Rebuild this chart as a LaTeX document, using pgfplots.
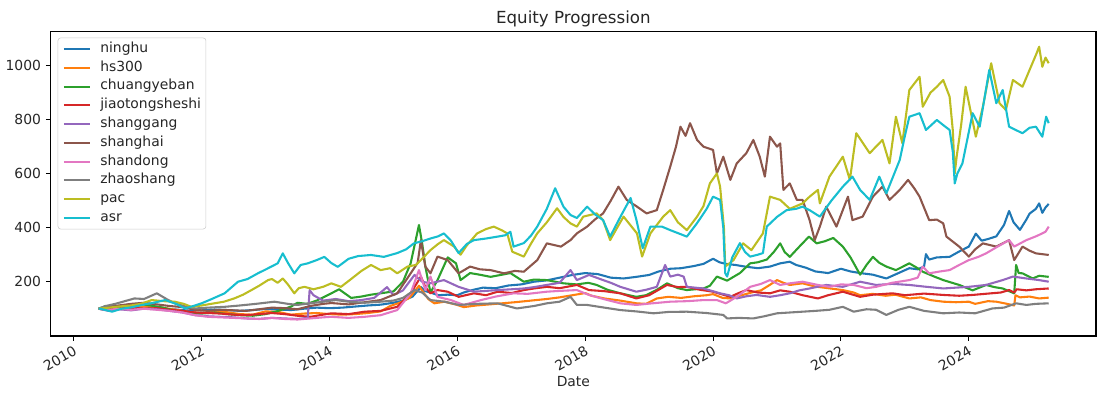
\documentclass[border=0pt]{standalone}
\usepackage{pgfplots}
\pgfplotsset{compat=1.18}
\usepackage{fontspec}
\setmainfont{DejaVu Sans}
\definecolor{tabblue}{HTML}{1F77B4}
\definecolor{taborange}{HTML}{FF7F0E}
\definecolor{tabgreen}{HTML}{2CA02C}
\definecolor{tabred}{HTML}{D62728}
\definecolor{tabpurple}{HTML}{9467BD}
\definecolor{tabbrown}{HTML}{8C564B}
\definecolor{tabpink}{HTML}{E377C2}
\definecolor{tabgray}{HTML}{7F7F7F}
\definecolor{tabolive}{HTML}{BCBD22}
\definecolor{tabcyan}{HTML}{17BECF}
\begin{document}
\begin{tikzpicture}
\begin{axis}[
  name=ax,
  width=752.6pt, height=219.1pt, scale only axis,
  xmin=2009.64, xmax=2025.99, ymin=-1, ymax=1126,
  xtick={2010,2012,2014,2016,2018,2020,2022,2024},
  xticklabels={2010,2012,2014,2016,2018,2020,2022,2024},
  ytick={200,400,600,800,1000},
  /pgf/number format/.cd, 1000 sep={}, assume math mode=true, /pgfplots/.cd,
  tick align=outside, major tick length=3.5pt,
  tick style={black, line width=0.8pt},
  axis line style={line width=0.8pt},
  xtick pos=bottom, ytick pos=left,
  ticklabel style={font=\fontsize{10}{12}\selectfont, text=black!85},
  xticklabel style={rotate=30, anchor=north east, inner sep=2pt},
  title={Equity Progression},
  title style={font=\fontsize{12}{14}\selectfont, text=black!85, yshift=-6.5pt},
  xlabel={Date},
  xlabel style={font=\fontsize{10}{12}\selectfont, text=black!85, yshift=3pt},
  every axis plot/.append style={line width=1.5pt, line join=round},
  legend cell align=left,
  legend image code/.code={\draw[#1, line width=1.5pt] (0pt,0pt) -- (19pt,0pt);},
  legend style={at={(0,1)}, anchor=north west, xshift=5pt, yshift=-4.3pt,
    draw=black!20, fill=white, rounded corners=2pt,
    font=\fontsize{10}{12}\selectfont, text=black!85,
    inner xsep=3.5pt, inner ysep=1.3pt, row sep=0pt, column sep=6.5pt,
    nodes={inner sep=0pt, text height=9.2pt, text depth=4.3pt}},
]
\addplot[tabblue] coordinates {(2010.39,100) (2010.5,96) (2010.65,100) (2010.8,104) (2011.0,101) (2011.2,104) (2011.4,100) (2011.6,97) (2011.8,93) (2012.0,94) (2012.2,97) (2012.4,95) (2012.6,92) (2012.8,95) (2013.0,99) (2013.2,97) (2013.4,95) (2013.6,100) (2013.8,104) (2014.0,102) (2014.2,104) (2014.4,108) (2014.6,112) (2014.8,115) (2015.0,122) (2015.15,130) (2015.3,145) (2015.43,180) (2015.5,165) (2015.58,160) (2015.7,150) (2015.85,152) (2016.0,150) (2016.1,160) (2016.25,170) (2016.4,178) (2016.6,176) (2016.8,186) (2017.0,190) (2017.2,200) (2017.4,205) (2017.6,215) (2017.8,225) (2018.0,232) (2018.2,228) (2018.4,215) (2018.6,212) (2018.8,218) (2019.0,225) (2019.15,238) (2019.33,248) (2019.5,250) (2019.7,258) (2019.85,266) (2020.0,285) (2020.1,272) (2020.2,266) (2020.35,262) (2020.5,256) (2020.7,250) (2020.89,256) (2021.05,268) (2021.2,274) (2021.3,262) (2021.45,252) (2021.6,238) (2021.8,232) (2022.0,248) (2022.15,238) (2022.3,232) (2022.5,226) (2022.71,212) (2022.9,232) (2023.07,250) (2023.2,246) (2023.3,256) (2023.33,302) (2023.38,282) (2023.5,290) (2023.7,292) (2023.85,312) (2024.0,330) (2024.11,378) (2024.2,352) (2024.3,358) (2024.43,368) (2024.55,410) (2024.63,462) (2024.7,420) (2024.8,392) (2024.9,430) (2024.95,452) (2025.05,470) (2025.1,490) (2025.15,455) (2025.2,475) (2025.25,488)};
\addlegendentry{ninghu}
\addplot[taborange] coordinates {(2010.39,100) (2010.55,94) (2010.7,104) (2010.85,112) (2011.0,106) (2011.2,108) (2011.4,103) (2011.6,96) (2011.8,88) (2012.0,84) (2012.2,90) (2012.4,87) (2012.6,80) (2012.8,78) (2013.0,90) (2013.2,88) (2013.4,78) (2013.6,82) (2013.8,84) (2014.0,80) (2014.2,78) (2014.4,80) (2014.6,84) (2014.8,90) (2014.95,110) (2015.1,122) (2015.25,140) (2015.4,185) (2015.47,160) (2015.55,135) (2015.64,120) (2015.8,126) (2016.0,114) (2016.1,106) (2016.3,112) (2016.5,116) (2016.7,120) (2016.9,124) (2017.15,130) (2017.4,136) (2017.6,142) (2017.8,150) (2018.0,158) (2018.1,148) (2018.3,138) (2018.55,130) (2018.8,120) (2018.95,118) (2019.12,138) (2019.3,144) (2019.5,140) (2019.7,146) (2019.9,150) (2020.0,154) (2020.15,140) (2020.27,138) (2020.45,150) (2020.6,160) (2020.75,168) (2020.9,190) (2021.0,206) (2021.1,196) (2021.2,188) (2021.4,194) (2021.6,182) (2021.8,176) (2022.03,169) (2022.2,160) (2022.3,150) (2022.5,155) (2022.7,148) (2022.85,152) (2023.07,138) (2023.25,142) (2023.4,132) (2023.6,126) (2023.8,124) (2024.0,126) (2024.1,118) (2024.3,128) (2024.43,126) (2024.6,118) (2024.71,112) (2024.73,150) (2024.8,142) (2024.95,145) (2025.1,138) (2025.25,141)};
\addlegendentry{hs300}
\addplot[tabgreen] coordinates {(2010.39,100) (2010.5,110) (2010.65,104) (2010.8,112) (2011.0,118) (2011.2,112) (2011.4,104) (2011.6,92) (2011.8,84) (2012.0,82) (2012.2,86) (2012.4,80) (2012.6,76) (2012.8,74) (2013.0,80) (2013.2,92) (2013.4,108) (2013.5,122) (2013.65,118) (2013.8,130) (2014.03,157) (2014.15,172) (2014.34,140) (2014.5,145) (2014.65,152) (2014.8,157) (2015.0,164) (2015.15,200) (2015.27,268) (2015.4,410) (2015.45,342) (2015.5,256) (2015.58,160) (2015.69,206) (2015.85,290) (2015.98,268) (2016.05,206) (2016.2,232) (2016.35,226) (2016.52,218) (2016.7,226) (2016.83,232) (2017.04,200) (2017.2,208) (2017.4,206) (2017.66,194) (2017.87,190) (2018.05,196) (2018.18,188) (2018.35,170) (2018.55,157) (2018.8,144) (2018.95,150) (2019.12,170) (2019.28,194) (2019.45,176) (2019.59,169) (2019.85,175) (2019.95,185) (2020.06,219) (2020.22,204) (2020.42,232) (2020.58,268) (2020.7,272) (2020.84,282) (2020.95,310) (2021.05,342) (2021.12,310) (2021.2,292) (2021.35,330) (2021.5,367) (2021.62,342) (2021.75,350) (2021.88,362) (2022.03,330) (2022.15,290) (2022.3,226) (2022.4,262) (2022.5,292) (2022.6,270) (2022.71,256) (2022.86,243) (2023.07,268) (2023.2,250) (2023.28,237) (2023.45,220) (2023.6,206) (2023.85,188) (2024.06,168) (2024.27,188) (2024.4,180) (2024.53,175) (2024.71,157) (2024.74,262) (2024.78,232) (2024.84,231) (2025.0,212) (2025.1,222) (2025.25,218)};
\addlegendentry{chuangyeban}
\addplot[tabred] coordinates {(2010.39,100) (2010.55,105) (2010.7,98) (2010.9,104) (2011.1,100) (2011.3,102) (2011.5,96) (2011.7,92) (2011.9,86) (2012.1,84) (2012.3,82) (2012.5,78) (2012.7,76) (2012.9,80) (2013.1,84) (2013.3,80) (2013.5,74) (2013.7,70) (2013.9,78) (2014.03,83) (2014.3,80) (2014.55,89) (2014.8,92) (2015.06,107) (2015.27,157) (2015.43,219) (2015.5,180) (2015.58,157) (2015.69,169) (2015.85,163) (2016.02,144) (2016.26,157) (2016.45,150) (2016.63,163) (2016.85,158) (2017.04,169) (2017.2,175) (2017.4,181) (2017.6,176) (2017.87,188) (2018.06,169) (2018.3,165) (2018.55,157) (2018.8,138) (2019.0,150) (2019.28,188) (2019.45,180) (2019.59,181) (2019.8,170) (2020.0,163) (2020.27,144) (2020.4,158) (2020.52,169) (2020.7,160) (2020.89,157) (2021.05,168) (2021.2,163) (2021.4,150) (2021.64,138) (2021.8,150) (2022.03,163) (2022.3,144) (2022.5,152) (2022.81,157) (2023.0,150) (2023.3,156) (2023.6,151) (2023.85,148) (2024.06,151) (2024.3,156) (2024.5,160) (2024.63,169) (2024.71,160) (2024.75,172) (2024.9,168) (2025.05,172) (2025.25,175)};
\addlegendentry{jiaotongsheshi}
\addplot[tabpurple] coordinates {(2010.39,100) (2010.55,92) (2010.7,98) (2010.9,94) (2011.1,100) (2011.3,98) (2011.5,92) (2011.7,86) (2011.9,76) (2012.1,72) (2012.3,70) (2012.5,68) (2012.7,64) (2012.9,62) (2013.1,66) (2013.3,64) (2013.5,62) (2013.66,66) (2013.69,169) (2013.75,150) (2013.9,130) (2014.1,136) (2014.3,128) (2014.5,132) (2014.7,140) (2014.9,180) (2015.0,150) (2015.15,168) (2015.33,225) (2015.45,200) (2015.58,194) (2015.79,206) (2016.02,181) (2016.26,163) (2016.45,166) (2016.63,169) (2016.85,172) (2017.04,175) (2017.2,180) (2017.4,188) (2017.6,196) (2017.77,243) (2017.87,206) (2018.06,225) (2018.28,206) (2018.4,196) (2018.55,181) (2018.8,163) (2018.95,170) (2019.12,181) (2019.25,262) (2019.33,219) (2019.45,226) (2019.54,219) (2019.59,181) (2019.85,175) (2020.11,157) (2020.25,150) (2020.37,138) (2020.52,146) (2020.68,151) (2020.89,144) (2021.05,150) (2021.2,157) (2021.35,168) (2021.51,175) (2021.77,188) (2022.03,181) (2022.3,200) (2022.55,188) (2022.8,192) (2023.07,188) (2023.3,182) (2023.6,175) (2023.8,178) (2024.0,181) (2024.27,188) (2024.53,206) (2024.69,219) (2024.9,212) (2025.1,206) (2025.25,200)};
\addlegendentry{shanggang}
\addplot[tabbrown] coordinates {(2010.39,100) (2010.55,108) (2010.7,112) (2010.9,118) (2011.1,122) (2011.3,116) (2011.5,110) (2011.7,106) (2011.9,96) (2012.1,92) (2012.3,96) (2012.5,94) (2012.7,92) (2012.9,98) (2013.1,104) (2013.3,102) (2013.5,98) (2013.7,110) (2013.9,118) (2014.03,121) (2014.3,116) (2014.55,124) (2014.8,132) (2015.06,157) (2015.27,231) (2015.38,270) (2015.43,354) (2015.5,256) (2015.58,231) (2015.69,293) (2015.85,280) (2016.02,231) (2016.2,256) (2016.35,246) (2016.52,243) (2016.73,231) (2016.9,240) (2017.04,237) (2017.25,280) (2017.4,342) (2017.62,330) (2017.77,354) (2017.87,379) (2018.03,404) (2018.15,430) (2018.28,453) (2018.4,500) (2018.52,552) (2018.65,503) (2018.81,478) (2018.96,453) (2019.12,465) (2019.22,540) (2019.33,626) (2019.42,700) (2019.49,774) (2019.57,740) (2019.64,787) (2019.75,725) (2019.85,700) (2020.0,688) (2020.06,601) (2020.16,663) (2020.27,577) (2020.37,638) (2020.52,676) (2020.63,725) (2020.73,663) (2020.81,589) (2020.89,737) (2021.0,700) (2021.05,712) (2021.1,540) (2021.2,564) (2021.31,503) (2021.4,503) (2021.51,428) (2021.59,354) (2021.67,404) (2021.77,478) (2021.93,404) (2022.11,515) (2022.18,428) (2022.34,441) (2022.5,515) (2022.65,552) (2022.76,503) (2022.92,540) (2023.05,577) (2023.15,545) (2023.23,515) (2023.38,428) (2023.5,430) (2023.6,416) (2023.65,367) (2023.85,330) (2024.0,293) (2024.1,320) (2024.22,342) (2024.43,330) (2024.63,354) (2024.71,280) (2024.84,330) (2024.95,315) (2025.05,305) (2025.25,299)};
\addlegendentry{shanghai}
\addplot[tabpink] coordinates {(2010.39,100) (2010.55,96) (2010.7,100) (2010.9,96) (2011.1,100) (2011.3,96) (2011.5,92) (2011.7,86) (2011.9,76) (2012.1,70) (2012.3,68) (2012.5,66) (2012.7,64) (2012.9,62) (2013.1,66) (2013.3,62) (2013.5,60) (2013.7,64) (2013.9,68) (2014.03,70) (2014.3,66) (2014.55,70) (2014.8,76) (2015.06,95) (2015.27,157) (2015.4,243) (2015.5,169) (2015.58,219) (2015.69,144) (2015.9,132) (2016.1,114) (2016.37,132) (2016.6,145) (2016.88,157) (2017.1,155) (2017.4,163) (2017.6,166) (2017.87,169) (2018.06,151) (2018.3,135) (2018.55,120) (2018.8,114) (2019.05,120) (2019.33,126) (2019.6,128) (2019.85,132) (2020.06,132) (2020.2,120) (2020.37,144) (2020.58,181) (2020.75,192) (2020.89,206) (2021.05,188) (2021.2,194) (2021.4,200) (2021.64,188) (2021.82,181) (2022.0,190) (2022.2,188) (2022.4,176) (2022.55,181) (2022.8,196) (2023.07,206) (2023.2,215) (2023.28,256) (2023.38,231) (2023.55,238) (2023.7,243) (2023.85,262) (2024.0,280) (2024.15,292) (2024.27,305) (2024.45,330) (2024.63,354) (2024.71,330) (2024.9,354) (2025.05,368) (2025.15,379) (2025.2,385) (2025.25,404)};
\addlegendentry{shandong}
\addplot[tabgray] coordinates {(2010.39,100) (2010.5,110) (2010.65,118) (2010.8,128) (2010.95,138) (2011.1,136) (2011.3,157) (2011.45,136) (2011.58,120) (2011.75,108) (2011.9,101) (2012.1,104) (2012.36,107) (2012.6,112) (2012.85,118) (2013.14,126) (2013.35,118) (2013.5,114) (2013.7,120) (2013.9,126) (2014.1,132) (2014.3,126) (2014.55,122) (2014.8,126) (2015.0,130) (2015.15,140) (2015.33,169) (2015.45,160) (2015.58,132) (2015.8,126) (2016.02,114) (2016.3,118) (2016.63,120) (2016.93,101) (2017.2,110) (2017.4,120) (2017.6,126) (2017.77,144) (2017.87,114) (2018.03,114) (2018.3,104) (2018.55,95) (2018.8,90) (2019.07,83) (2019.3,88) (2019.59,89) (2019.9,84) (2020.16,77) (2020.22,64) (2020.4,66) (2020.63,64) (2020.8,72) (2021.0,83) (2021.2,86) (2021.4,89) (2021.6,92) (2021.82,96) (2022.03,107) (2022.2,89) (2022.4,98) (2022.55,96) (2022.71,77) (2022.9,96) (2023.07,107) (2023.3,92) (2023.6,83) (2023.85,86) (2024.1,83) (2024.37,101) (2024.55,104) (2024.74,120) (2024.9,114) (2025.05,118) (2025.25,120)};
\addlegendentry{zhaoshang}
\addplot[tabolive] coordinates {(2010.39,100) (2010.55,104) (2010.7,108) (2010.9,112) (2011.05,118) (2011.22,132) (2011.4,128) (2011.58,126) (2011.72,118) (2011.84,107) (2012.0,112) (2012.2,120) (2012.35,126) (2012.51,138) (2012.65,152) (2012.78,169) (2012.9,185) (2013.04,206) (2013.1,210) (2013.19,196) (2013.27,212) (2013.35,190) (2013.45,157) (2013.52,176) (2013.61,181) (2013.75,172) (2013.9,181) (2014.03,194) (2014.18,181) (2014.35,212) (2014.5,240) (2014.65,262) (2014.8,243) (2014.95,250) (2015.06,231) (2015.22,256) (2015.35,262) (2015.43,280) (2015.58,317) (2015.7,340) (2015.79,354) (2015.95,330) (2016.05,300) (2016.15,335) (2016.31,379) (2016.45,395) (2016.57,404) (2016.7,390) (2016.78,379) (2016.86,311) (2017.04,293) (2017.15,340) (2017.25,379) (2017.4,420) (2017.56,472) (2017.66,440) (2017.77,416) (2017.87,404) (2017.97,441) (2018.18,453) (2018.28,428) (2018.39,354) (2018.5,400) (2018.6,441) (2018.81,379) (2018.89,293) (2019.02,379) (2019.22,441) (2019.33,465) (2019.45,420) (2019.59,391) (2019.75,441) (2019.85,480) (2019.95,564) (2020.06,601) (2020.11,552) (2020.17,400) (2020.19,256) (2020.32,280) (2020.47,342) (2020.6,317) (2020.78,379) (2020.89,515) (2021.05,503) (2021.2,470) (2021.4,490) (2021.51,515) (2021.64,540) (2021.67,490) (2021.82,589) (2022.03,663) (2022.14,577) (2022.24,750) (2022.45,676) (2022.65,725) (2022.76,638) (2022.86,811) (2022.96,713) (2023.07,910) (2023.23,959) (2023.28,848) (2023.4,900) (2023.5,922) (2023.6,947) (2023.7,885) (2023.75,760) (2023.78,601) (2023.81,663) (2023.88,780) (2023.95,922) (2024.11,737) (2024.22,848) (2024.35,1009) (2024.48,861) (2024.58,836) (2024.69,947) (2024.84,922) (2024.95,984) (2025.05,1040) (2025.1,1070) (2025.15,996) (2025.2,1030) (2025.25,1009)};
\addlegendentry{pac}
\addplot[tabcyan] coordinates {(2010.39,101) (2010.5,95) (2010.6,89) (2010.75,100) (2010.9,105) (2011.07,114) (2011.25,122) (2011.43,132) (2011.6,118) (2011.74,101) (2011.87,110) (2012.0,120) (2012.15,135) (2012.36,157) (2012.57,200) (2012.72,210) (2012.88,231) (2013.0,245) (2013.19,268) (2013.27,305) (2013.35,270) (2013.45,231) (2013.55,262) (2013.66,268) (2013.8,280) (2013.92,292) (2014.03,269) (2014.13,255) (2014.3,285) (2014.45,295) (2014.65,299) (2014.85,292) (2015.06,306) (2015.2,320) (2015.32,342) (2015.45,350) (2015.58,360) (2015.7,368) (2015.79,379) (2015.9,352) (2016.02,306) (2016.15,340) (2016.26,354) (2016.45,360) (2016.63,367) (2016.75,372) (2016.83,385) (2016.88,330) (2017.04,343) (2017.15,370) (2017.25,404) (2017.4,470) (2017.53,546) (2017.66,478) (2017.77,447) (2017.87,436) (2018.03,478) (2018.15,450) (2018.28,428) (2018.39,367) (2018.55,440) (2018.71,510) (2018.8,430) (2018.9,324) (2019.02,404) (2019.2,404) (2019.33,391) (2019.45,380) (2019.59,367) (2019.75,417) (2019.9,470) (2020.0,515) (2020.11,503) (2020.16,400) (2020.19,232) (2020.22,219) (2020.3,290) (2020.42,343) (2020.5,310) (2020.58,293) (2020.7,300) (2020.78,306) (2020.84,404) (2021.0,440) (2021.15,465) (2021.3,470) (2021.4,478) (2021.51,465) (2021.67,441) (2021.85,500) (2022.03,552) (2022.18,589) (2022.3,540) (2022.45,503) (2022.6,589) (2022.71,527) (2022.8,580) (2022.92,651) (2023.0,740) (2023.07,811) (2023.23,824) (2023.33,762) (2023.5,799) (2023.6,780) (2023.7,762) (2023.75,680) (2023.78,564) (2023.82,600) (2023.9,638) (2024.06,824) (2024.17,774) (2024.32,984) (2024.43,861) (2024.53,910) (2024.63,774) (2024.75,760) (2024.84,750) (2024.95,770) (2025.05,774) (2025.15,737) (2025.21,811) (2025.25,787)};
\addlegendentry{asr}
\end{axis}
\path ([xshift=-36.5pt,yshift=-43.9pt]ax.south west) rectangle ([xshift=7.9pt,yshift=22.8pt]ax.north east);
\end{tikzpicture}
\end{document}
